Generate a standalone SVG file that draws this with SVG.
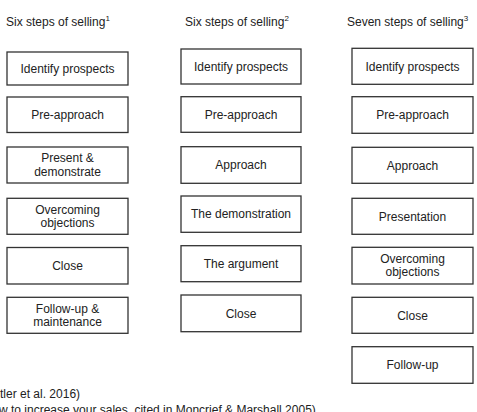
<svg xmlns="http://www.w3.org/2000/svg" width="477" height="412" viewBox="0 0 477 412">
<style>
  text { font-family: "Liberation Sans", Arial, sans-serif; font-size: 12px; fill: #222; }
  .box rect { fill: #fff; stroke: #333; stroke-width: 1.3; }
  .box text { text-anchor: middle; }
  .sup { font-size: 8px; }
</style>
<rect x="0" y="0" width="477" height="412" fill="#fff"/>
<g id="titles">
  <text x="6" y="26">Six steps of selling<tspan class="sup" dy="-5">1</tspan></text>
  <text x="185" y="26">Six steps of selling<tspan class="sup" dy="-5">2</tspan></text>
  <text x="347" y="26">Seven steps of selling<tspan class="sup" dy="-5">3</tspan></text>
</g>
<g id="connectors"></g>
<!-- Column 1 -->
<g id="c1-identify" class="box"><rect x="7" y="52" width="121" height="33"/><text x="67.5" y="72.5">Identify prospects</text></g>
<g id="c1-preapproach" class="box"><rect x="7" y="97" width="121" height="35.5"/><text x="67.5" y="119">Pre-approach</text></g>
<g id="c1-present" class="box"><rect x="7" y="147" width="121" height="36"/><text x="67.5" y="162.3">Present &amp;</text><text x="67.5" y="175.7">demonstrate</text></g>
<g id="c1-overcoming" class="box"><rect x="7" y="198.3" width="121" height="36"/><text x="67.5" y="213.6">Overcoming</text><text x="67.5" y="227">objections</text></g>
<g id="c1-close" class="box"><rect x="7" y="247.5" width="121" height="36.5"/><text x="67.5" y="270">Close</text></g>
<g id="c1-followup" class="box"><rect x="7" y="297.3" width="121" height="36"/><text x="67.5" y="312.6">Follow-up &amp;</text><text x="67.5" y="326">maintenance</text></g>
<!-- Column 2 -->
<g id="c2-identify" class="box"><rect x="181" y="49" width="120" height="35"/><text x="241" y="70.5">Identify prospects</text></g>
<g id="c2-preapproach" class="box"><rect x="181" y="96.7" width="120" height="35.6"/><text x="241" y="118.5">Pre-approach</text></g>
<g id="c2-approach" class="box"><rect x="181" y="146.7" width="120" height="36.6"/><text x="241" y="169">Approach</text></g>
<g id="c2-demonstration" class="box"><rect x="181" y="196" width="120" height="36.3"/><text x="241" y="218.3">The demonstration</text></g>
<g id="c2-argument" class="box"><rect x="181" y="245.7" width="120" height="36"/><text x="241" y="268">The argument</text></g>
<g id="c2-close" class="box"><rect x="181" y="295" width="120" height="36.7"/><text x="241" y="317.5">Close</text></g>
<!-- Column 3 -->
<g id="c3-identify" class="box"><rect x="352" y="48.3" width="121" height="36"/><text x="412.5" y="70.5">Identify prospects</text></g>
<g id="c3-preapproach" class="box"><rect x="352" y="96.7" width="121" height="36.6"/><text x="412.5" y="119">Pre-approach</text></g>
<g id="c3-approach" class="box"><rect x="352" y="147.3" width="121" height="36"/><text x="412.5" y="169.5">Approach</text></g>
<g id="c3-presentation" class="box"><rect x="352" y="198.3" width="121" height="36"/><text x="412.5" y="220.5">Presentation</text></g>
<g id="c3-overcoming" class="box"><rect x="352" y="247.3" width="121" height="36.7"/><text x="412.5" y="262.8">Overcoming</text><text x="412.5" y="276.2">objections</text></g>
<g id="c3-close" class="box"><rect x="352" y="297.3" width="121" height="36"/><text x="412.5" y="319.5">Close</text></g>
<g id="c3-followup" class="box"><rect x="352" y="346.7" width="121" height="36.6"/><text x="412.5" y="369">Follow-up</text></g>
<g id="footnotes">
  <text x="0" y="398">tler et al. 2016)</text>
  <text x="-1" y="414">w to increase your sales, cited in Moncrief &amp; Marshall 2005)</text>
</g>
</svg>
